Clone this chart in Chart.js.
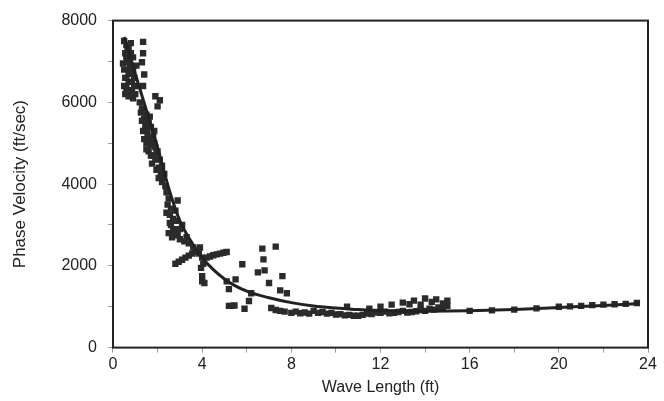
<!DOCTYPE html>
<html>
<head>
<meta charset="utf-8">
<script src="https://cdn.jsdelivr.net/npm/chart.js@4.4.0/dist/chart.umd.min.js"></script>
<style>
  html, body { margin: 0; padding: 0; background: #fff; }
  #wrap { width: 664px; height: 401px; }
</style>
</head>
<body>
<div id="wrap"><canvas id="chart"></canvas></div>
<script>
// measured points (wave length ft, phase velocity ft/sec)
const waveLen = [
  0.5,0.6,0.55,0.7,0.8,0.65,0.5,0.75,0.9,0.6,0.8,0.5,0.7,0.95,0.55,0.85,1.0,0.7,1.05,0.45,0.9,1.0,
  0.6,0.7,0.8,0.6,0.75,0.85,0.65,0.9,0.55,0.8,0.7,0.95,
  1.35,1.35,1.3,1.4,1.35,
  1.9,2.1,2.0,1.2,1.3,1.5,1.4,1.6,1.7,1.35,1.55,1.8,1.5,1.7,1.9,1.6,2.0,1.8,2.1,1.75,2.2,1.95,2.3,2.05,2.2,
  1.25,1.45,1.65,1.4,1.6,1.85,1.5,1.7,1.9,2.05,1.85,2.15,1.3,1.55,1.95,2.25,
  2.35,2.4,2.5,2.45,2.6,2.55,2.7,2.6,2.75,2.5,2.65,2.9,3.0,3.2,3.4,3.6,3.8,2.8,2.9,3.1,
  2.4,2.55,2.7,2.85,3.0,3.3,
  2.8,2.95,3.1,3.25,3.4,3.55,3.7,3.85,3.9,4.0,4.05,3.95,4.2,4.35,4.5,4.65,4.8,4.95,5.1,4.0,4.0,
  6.7,7.3,6.75,6.5,6.8,5.8,7.6,7.0,7.5,7.8,4.1,5.5,5.1,5.2,6.2,6.1,5.3,5.9,7.1,7.5,8.0,
  5.2,5.45,7.3,7.7,
  8.2,8.6,9.0,9.4,9.8,10.2,10.6,11.0,11.4,11.8,12.2,12.6,13.0,13.4,13.8,14.2,14.6,15.0,
  8.4,8.8,9.2,9.6,10.0,10.4,10.8,11.2,11.6,12.0,12.4,12.8,13.2,13.6,14.0,14.4,14.8,
  12.0,12.5,13.0,13.5,14.0,14.5,15.0,14.8,13.8,10.5,11.5,14.3,13.3,
  16.0,17.0,18.0,19.0,20.0,20.5,21.0,21.5,22.0,22.5,23.0,23.5
];
const phaseVel = [
  7500,7400,7200,7300,7450,7000,6800,6900,7100,6600,6700,6400,6500,6600,6200,6300,6400,6150,6900,6950,6100,6200,
  7100,6750,6900,6350,6250,6500,7300,6800,6600,7200,7000,6400,
  7480,7200,6980,6680,6400,
  6150,6050,5900,6000,5850,5700,5600,5500,5400,5300,5200,5150,5000,4950,4900,4800,4800,4700,4600,4500,4450,4350,4250,4150,4050,
  5750,5450,5650,5100,5050,5300,4850,4700,4600,4400,5000,4300,5550,5350,4750,4200,
  3950,3800,3650,3500,3400,3250,3150,3000,2900,2800,2700,2750,2650,2600,2550,2450,2350,3350,3600,3000,
  3300,3050,2850,3100,2900,2700,
  2050,2100,2150,2200,2250,2300,2350,2300,2450,2200,2050,1950,2200,2230,2260,2280,2300,2320,2340,1750,1620,
  2420,2470,2160,1840,1890,2040,1750,1580,1400,1330,1580,1670,1620,1430,1330,1140,1020,950,970,900,850,
  1020,1030,920,880,
  880,860,900,870,850,820,800,780,830,860,880,850,900,870,920,950,980,1020,
  840,830,850,830,810,790,780,800,820,850,840,870,860,890,900,930,960,
  1000,1050,1100,1150,1200,1180,1150,1080,1050,1000,950,1120,1060,
  900,910,930,960,1000,1010,1020,1040,1050,1060,1070,1090
];

// fitted curve
const fitLen = [0.5,1,1.5,2,2.5,3,3.5,4,5,6,7,8,9,10,11,12,14,16,18,20,22,23.6];
const fitVel = [7600,6700,5800,4900,3900,3100,2600,2200,1680,1380,1220,1100,1020,970,930,910,890,900,930,980,1030,1080];

const xTicks = [0, 4, 8, 12, 16, 20, 24];
const yTicks = [0, 2000, 4000, 6000, 8000];

const ink = '#222222';
const family = '"Liberation Sans", Arial, Helvetica, sans-serif';
const tickFont = { family, size: 16 };

const frame = {
  id: 'frame',
  afterDatasetsDraw(chart) {
    const { ctx, chartArea: a } = chart;
    ctx.save();
    ctx.strokeStyle = ink; ctx.lineWidth = 2;
    ctx.strokeRect(a.left, a.top, a.right - a.left, a.bottom - a.top);
    ctx.restore();
  }
};

new Chart(document.getElementById('chart'), {
  type: 'scatter',
  data: {
    datasets: [
      {
        label: 'fit',
        data: fitLen.map((x, i) => ({ x, y: fitVel[i] })),
        showLine: true, borderColor: ink, borderWidth: 3, pointRadius: 0,
        cubicInterpolationMode: 'monotone', order: 0
      },
      {
        label: 'measured',
        data: waveLen.map((x, i) => ({ x, y: phaseVel[i] })),
        pointStyle: 'rect', pointRadius: 4.5, backgroundColor: '#2b2b2b', borderColor: '#2b2b2b',
        borderWidth: 0, order: 1
      }
    ]
  },
  options: {
    responsive: true, maintainAspectRatio: false, animation: false,
    layout: { padding: { top: 10, right: 16, bottom: 4, left: 10 } },
    plugins: { legend: { display: false }, tooltip: { enabled: false } },
    scales: {
      x: {
        type: 'linear', min: 0, max: 24,
        ticks: { stepSize: 2, color: ink, font: tickFont, padding: 2,
          callback: v => xTicks.includes(v) ? v : '' },
        grid: { drawOnChartArea: false, tickLength: 5, color: '#999' },
        border: { display: false },
        title: { display: true, text: 'Wave Length (ft)', color: ink, font: { family, size: 16 }, padding: { top: 2, bottom: 0 } }
      },
      y: {
        type: 'linear', min: 0, max: 8000,
        ticks: { stepSize: 1000, color: ink, font: tickFont, padding: 11,
          callback: v => yTicks.includes(v) ? v : '' },
        grid: { drawOnChartArea: false, tickLength: 5, color: '#999' },
        border: { display: false },
        title: { display: true, text: 'Phase Velocity (ft/sec)', color: ink, font: { family, size: 17 }, padding: { top: 0, bottom: 20 } }
      }
    }
  },
  plugins: [frame]
});
</script>
</body>
</html>
